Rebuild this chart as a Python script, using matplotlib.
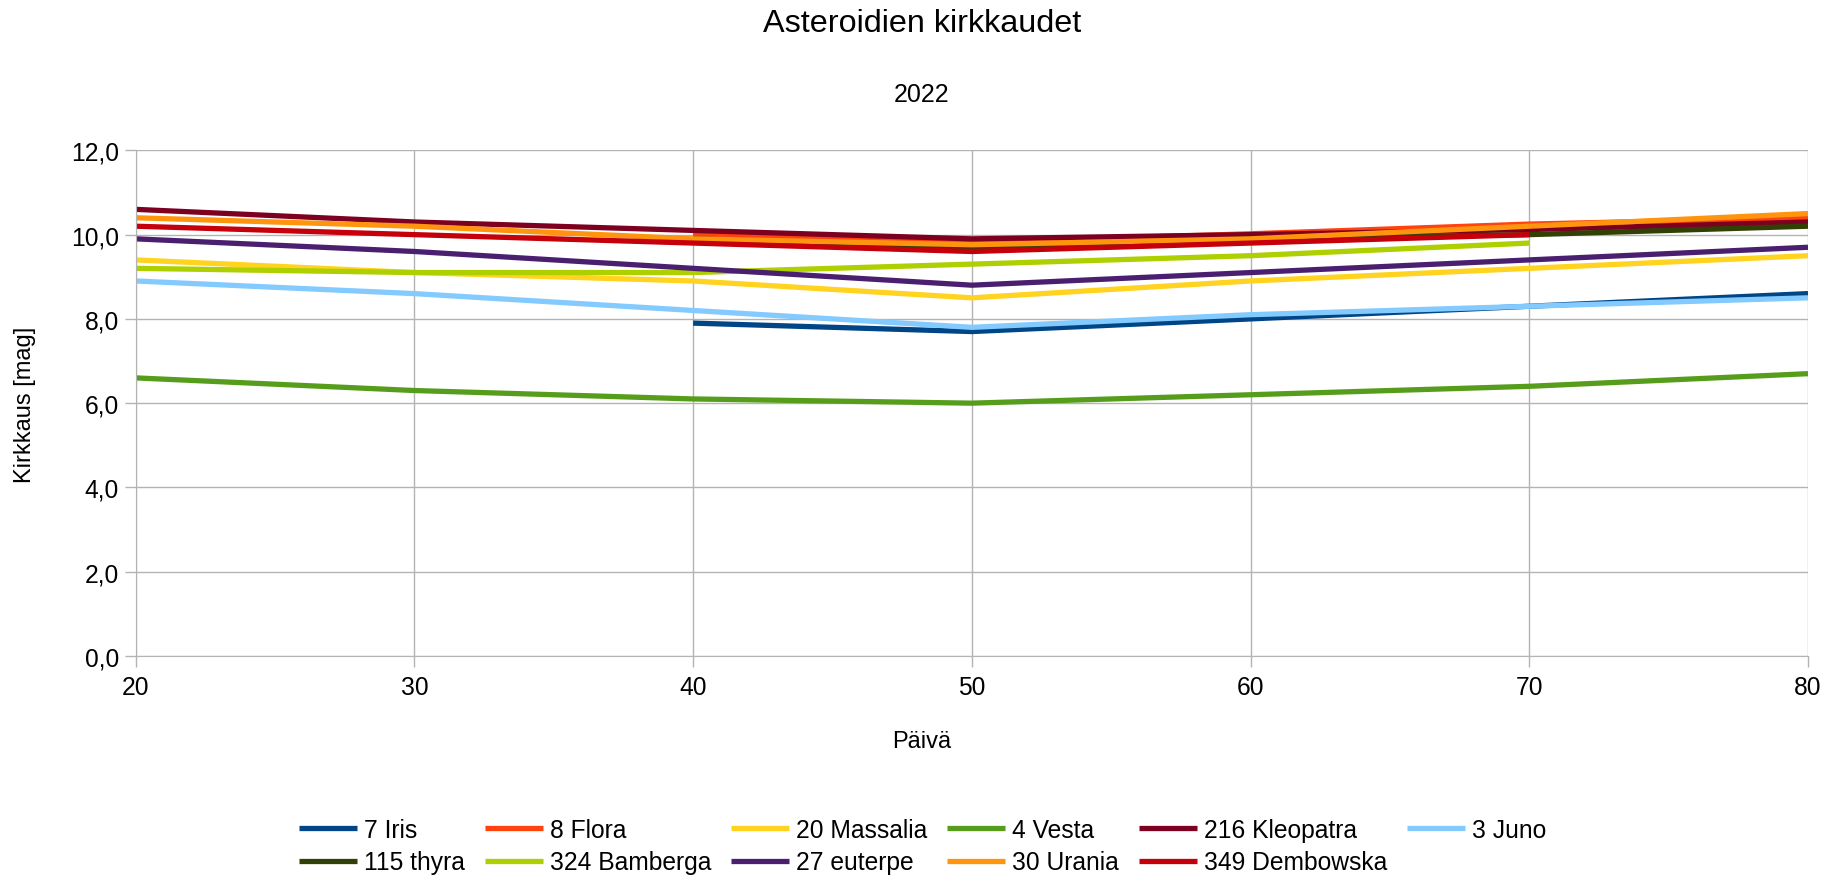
import numpy as np
import matplotlib.pyplot as plt
from matplotlib.ticker import FuncFormatter

plt.rcParams['font.family'] = ['Liberation Sans', 'DejaVu Sans']

# days on the x axis
days = [20, 30, 40, 50, 60, 70, 80]

# brightness per asteroid (None = no observation)
iris = [None, None, 7.9, 7.7, 8.0, 8.3, 8.6]
flora = [None, None, 10.0, 9.82, 10.02, 10.25, 10.4]
massalia = [9.4, 9.1, 8.9, 8.5, 8.9, 9.2, 9.5]
vesta = [6.6, 6.3, 6.1, 6.0, 6.2, 6.4, 6.7]
kleopatra = [10.6, 10.3, 10.1, 9.9, 10.0, 10.12, 10.3]
juno = [8.9, 8.6, 8.2, 7.8, 8.1, 8.3, 8.5]
thyra = [None, None, 9.9, 9.7, 9.9, 10.0, 10.2]
bamberga = [9.2, 9.1, 9.1, 9.3, 9.5, 9.8, None]
euterpe = [9.9, 9.6, 9.2, 8.8, 9.1, 9.4, 9.7]
urania = [10.4, 10.2, 9.9, 9.76, 9.9, 10.2, 10.5]
dembowska = [10.2, 10.0, 9.8, 9.6, 9.8, 10.0, None]

series = [
    ("7 Iris", iris, "#004586"),
    ("8 Flora", flora, "#ff420e"),
    ("20 Massalia", massalia, "#ffd320"),
    ("4 Vesta", vesta, "#579d1c"),
    ("216 Kleopatra", kleopatra, "#7e0021"),
    ("3 Juno", juno, "#83caff"),
    ("115 thyra", thyra, "#314004"),
    ("324 Bamberga", bamberga, "#aecf00"),
    ("27 euterpe", euterpe, "#4b1f6f"),
    ("30 Urania", urania, "#ff950e"),
    ("349 Dembowska", dembowska, "#c5000b"),
]

fig = plt.figure(figsize=(18.4, 8.79), dpi=100)
ax = fig.add_axes([0.07375, 0.2526, 0.90886, 0.5752])

lines = {}
for name, vals, col in series:
    y = np.array([np.nan if v is None else v for v in vals], dtype=float)
    ln, = ax.plot(days, y, color=col, lw=3.8, solid_capstyle='butt', label=name)
    lines[name] = ln

grid_col = "#b3b3b3"
ax.set_xlim(20, 80)
ax.set_ylim(0, 12)
ax.set_xticks(days)
ax.set_yticks(np.arange(0, 12.1, 2))
ax.yaxis.set_major_formatter(FuncFormatter(lambda v, p: f"{v:.1f}".replace(".", ",")))
ax.grid(True, color=grid_col, lw=1)
ax.set_axisbelow(True)
for s in ax.spines.values():
    s.set_visible(False)
ax.spines['left'].set_visible(True)
ax.spines['bottom'].set_visible(True)
ax.spines['left'].set_color(grid_col)
ax.spines['bottom'].set_color(grid_col)
ax.tick_params(axis='both', colors=grid_col, labelcolor='black', labelsize=17.7,
               length=8, width=1)
ax.tick_params(axis='x', pad=6)
ax.tick_params(axis='y', pad=4)

fig.text(0.501, 1 - 23.5 / 879, "Asteroidien kirkkaudet", ha='center', va='center', fontsize=23.3)
fig.text(0.501, 1 - 95 / 879, "2022", ha='center', va='center', fontsize=18)
fig.text(0.501, 1 - 742.5 / 879, "Päivä", ha='center', va='center', fontsize=17)
fig.text(25 / 1840, 1 - 405 / 879, "Kirkkaus [mag]", ha='center', va='center',
         rotation=90, fontsize=17)

# legend in reference order, row-major; matplotlib fills column-major
order = ["7 Iris", "115 thyra", "8 Flora", "324 Bamberga", "20 Massalia", "27 euterpe",
         "4 Vesta", "30 Urania", "216 Kleopatra", "349 Dembowska", "3 Juno"]
fig.legend([lines[n] for n in order], order, loc='center', ncol=6,
           bbox_to_anchor=(0.5015, 1 - 847 / 879), frameon=False, fontsize=17.7,
           handlelength=2.35, handletextpad=0.3, columnspacing=0.8, labelspacing=0.35)

fig.savefig("out.png", dpi=100)
